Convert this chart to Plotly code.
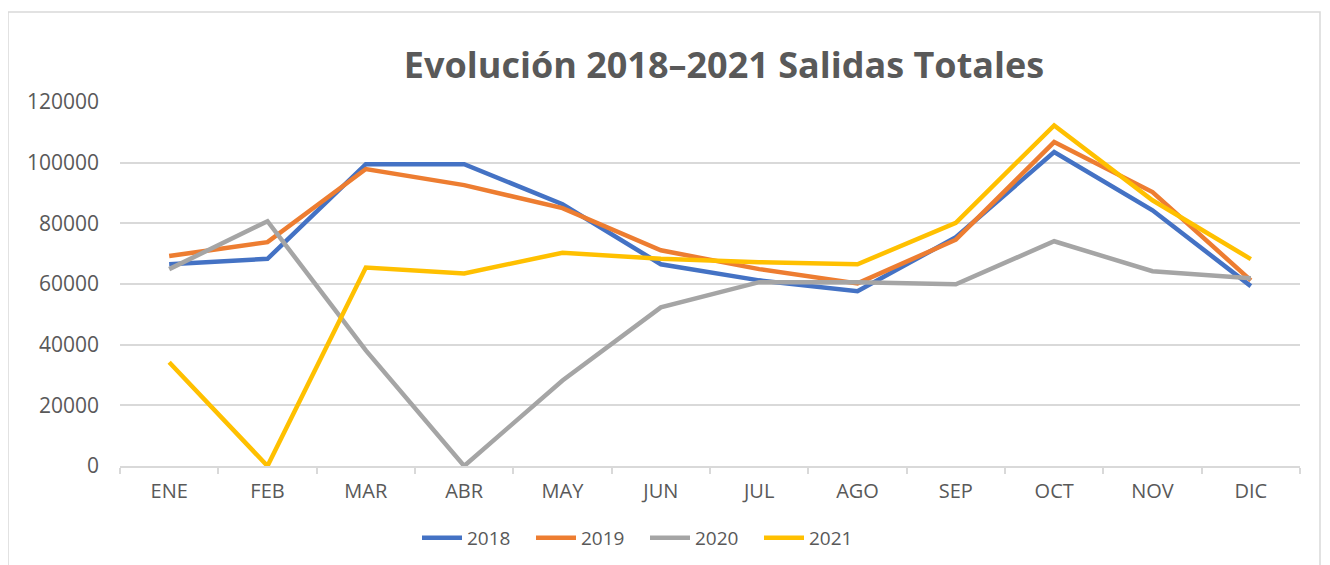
import plotly.graph_objects as go

months = ["ENE", "FEB", "MAR", "ABR", "MAY", "JUN", "JUL", "AGO", "SEP", "OCT", "NOV", "DIC"]
s2018 = [66500, 68300, 99500, 99500, 86300, 66500, 61200, 57600, 75400, 103500, 84300, 59300]
s2019 = [69200, 73800, 97900, 92600, 85000, 71100, 64900, 60200, 74600, 106800, 90300, 61200]
s2020 = [64900, 80700, 38100, 0, 28200, 52300, 60600, 60600, 59900, 74100, 64200, 61900]
s2021 = [34200, 0, 65400, 63500, 70300, 68300, 67200, 66500, 80200, 112300, 87600, 68200]
series = [("2018", s2018, "#4472C4"), ("2019", s2019, "#ED7D31"),
          ("2020", s2020, "#A5A5A5"), ("2021", s2021, "#FFC000")]

FONT = "Open Sans"
# page has an 8px body margin: figure is laid out in page coords minus 8
W, H = 1322, 557
L, T = 112, 94
PW, PH = 1180, 364
fig = go.Figure()
for name, vals, col in series:
    fig.add_trace(go.Scatter(x=months, y=vals, name=name, mode="lines",
                             line=dict(color=col, width=4.5), cliponaxis=False))

fig.update_layout(
    width=W, height=H, autosize=False,
    paper_bgcolor="white", plot_bgcolor="white",
    margin=dict(l=L, r=W - L - PW, t=T, b=H - T - PH),
    font=dict(family=FONT, color="#595959", size=18),
    title=dict(text="<b>Evolución 2018–2021 Salidas Totales</b>",
               x=(724 - 8) / W, xanchor="center", y=1 - (65 - 8) / H, yanchor="middle",
               font=dict(family=FONT, size=36, color="#595959")),
    showlegend=True,
    legend=dict(orientation="h", xref="container", yref="container",
                x=(417 - 8) / W, xanchor="left", y=1 - (538 - 8) / H, yanchor="middle",
                font=dict(size=19, color="#595959"), itemwidth=40,
                entrywidth=59, entrywidthmode="pixels", traceorder="normal"),
    xaxis=dict(type="category", range=[-0.5, 11.5], showgrid=False,
               showline=True, linecolor="#D9D9D9", linewidth=1.5,
               ticks="outside", tickson="boundaries", ticklen=6, tickcolor="#D9D9D9",
               tickwidth=1.5,
               ticklabelstandoff=6, tickfont=dict(size=20, color="#595959")),
    yaxis=dict(range=[0, 120000], dtick=20000, tickformat="d",
               showgrid=True, gridcolor="#D9D9D9", gridwidth=1.5,
               zeroline=False, showline=False, ticks="",
               ticklabelstandoff=20, tickfont=dict(size=21, color="#595959")),
    shapes=[dict(type="rect", xref="paper", yref="paper",
                 x0=(8 - 120) / PW, x1=(1320 - 120) / PW,
                 y0=(466 - 580) / PH, y1=(466 - 12) / PH,
                 line=dict(color="#D9D9D9", width=1.5), fillcolor="rgba(0,0,0,0)",
                 layer="below")],
)
fig.write_html("out.html")
